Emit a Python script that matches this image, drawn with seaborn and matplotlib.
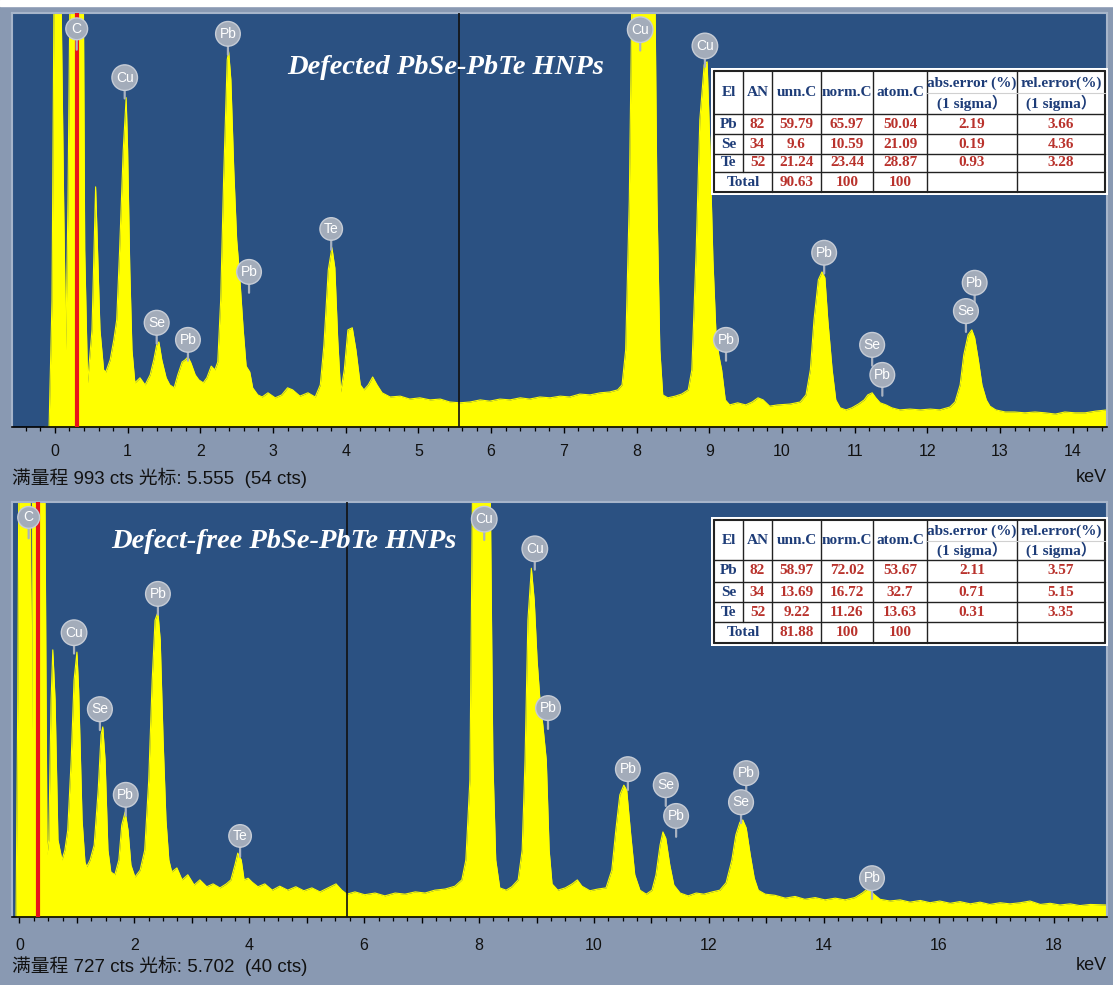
from __future__ import annotations

import matplotlib

matplotlib.use("Agg")

import matplotlib.pyplot as plt
import seaborn as sns
from matplotlib.patches import Rectangle
from matplotlib.ticker import FuncFormatter, MultipleLocator

# spectra: (energy keV, counts); values above full scale are saturated
defected_trace = [
    (-0.14, 0), (-0.08, 0), (-0.04, 305), (-0.01, 1100), (0.08, 1100), (0.12, 545), (0.15, 185),
    (0.18, 545), (0.21, 1100), (0.39, 1100), (0.41, 425), (0.45, 106), (0.51, 233), (0.56, 576),
    (0.62, 233), (0.67, 137), (0.70, 132), (0.76, 161), (0.81, 209), (0.85, 257), (0.89, 425),
    (0.94, 665), (0.98, 790), (1.00, 665), (1.03, 377), (1.06, 185), (1.10, 106), (1.17, 118),
    (1.24, 101), (1.31, 125), (1.36, 161), (1.40, 197), (1.43, 204), (1.47, 161), (1.53, 118),
    (1.58, 101), (1.64, 94), (1.69, 125), (1.75, 156), (1.79, 161), (1.83, 168), (1.87, 154),
    (1.93, 125), (1.98, 113), (2.04, 106), (2.09, 118), (2.15, 146), (2.20, 137), (2.24, 156),
    (2.28, 305), (2.32, 593), (2.37, 881), (2.39, 900), (2.42, 833), (2.46, 617), (2.50, 449),
    (2.54, 365), (2.59, 233), (2.63, 146), (2.68, 132), (2.72, 94), (2.79, 77), (2.85, 72),
    (2.93, 82), (3.03, 70), (3.12, 77), (3.20, 94), (3.27, 89), (3.37, 74), (3.48, 82), (3.58, 72),
    (3.65, 101), (3.70, 197), (3.76, 377), (3.81, 430), (3.85, 382), (3.89, 209), (3.93, 84),
    (3.98, 137), (4.03, 233), (4.09, 238), (4.14, 185), (4.20, 101), (4.25, 89), (4.31, 101),
    (4.37, 120), (4.43, 101), (4.50, 82), (4.61, 72), (4.75, 74), (4.88, 67), (5.02, 70),
    (5.16, 65), (5.30, 67), (5.43, 60), (5.57, 58), (5.71, 60), (5.85, 65), (5.98, 62), (6.12, 67),
    (6.26, 65), (6.40, 70), (6.53, 67), (6.67, 72), (6.81, 70), (6.95, 74), (7.08, 72), (7.22, 79),
    (7.36, 77), (7.50, 82), (7.63, 84), (7.74, 89), (7.80, 101), (7.85, 185), (7.90, 545),
    (7.94, 1100), (8.25, 1100), (8.28, 545), (8.32, 185), (8.36, 77), (8.43, 70), (8.53, 74),
    (8.62, 79), (8.71, 89), (8.76, 137), (8.82, 425), (8.87, 737), (8.93, 869), (8.97, 876),
    (9.01, 665), (9.05, 401), (9.09, 233), (9.13, 173), (9.17, 137), (9.22, 65), (9.28, 53),
    (9.39, 58), (9.50, 53), (9.59, 60), (9.67, 70), (9.74, 65), (9.83, 50), (9.94, 53),
    (10.11, 55), (10.25, 60), (10.33, 77), (10.39, 137), (10.44, 257), (10.50, 353), (10.55, 372),
    (10.59, 358), (10.63, 257), (10.69, 137), (10.74, 65), (10.80, 46), (10.88, 41), (10.96, 46),
    (11.05, 55), (11.13, 65), (11.18, 77), (11.24, 82), (11.29, 70), (11.35, 58), (11.43, 53),
    (11.51, 46), (11.62, 41), (11.76, 43), (11.90, 41), (12.04, 43), (12.17, 41), (12.31, 48),
    (12.38, 60), (12.45, 101), (12.50, 173), (12.56, 221), (12.61, 233), (12.65, 214),
    (12.70, 161), (12.75, 101), (12.81, 65), (12.86, 50), (12.94, 41), (13.07, 36), (13.20, 36),
    (13.34, 34), (13.48, 36), (13.62, 34), (13.76, 31), (13.89, 36), (14.03, 34), (14.17, 34),
    (14.31, 38), (14.47, 41),
]

defectfree_trace = [
    (-0.06, 0), (-0.03, 380), (-0.01, 800), (0.18, 800), (0.21, 328), (0.23, 800), (0.44, 800),
    (0.48, 109), (0.51, 135), (0.55, 380), (0.58, 468), (0.62, 380), (0.67, 135), (0.74, 100),
    (0.79, 117), (0.84, 152), (0.90, 275), (0.95, 415), (1.00, 464), (1.03, 398), (1.09, 170),
    (1.14, 96), (1.17, 88), (1.23, 100), (1.30, 126), (1.37, 222), (1.42, 319), (1.45, 333),
    (1.49, 275), (1.54, 117), (1.59, 79), (1.66, 74), (1.73, 100), (1.78, 161), (1.84, 184),
    (1.89, 152), (1.94, 91), (2.01, 70), (2.10, 82), (2.18, 117), (2.25, 240), (2.31, 415),
    (2.36, 520), (2.41, 534), (2.45, 485), (2.50, 310), (2.55, 170), (2.60, 100), (2.65, 79),
    (2.74, 86), (2.83, 65), (2.93, 74), (3.04, 56), (3.14, 65), (3.26, 53), (3.37, 58), (3.49, 51),
    (3.60, 58), (3.68, 65), (3.75, 91), (3.80, 112), (3.86, 100), (3.91, 65), (3.98, 68),
    (4.05, 61), (4.15, 53), (4.27, 58), (4.40, 47), (4.53, 54), (4.67, 47), (4.81, 53), (4.95, 46),
    (5.09, 51), (5.23, 44), (5.37, 51), (5.51, 58), (5.61, 47), (5.70, 40), (5.84, 44), (6.01, 39),
    (6.19, 42), (6.36, 37), (6.54, 42), (6.71, 40), (6.89, 44), (7.06, 42), (7.23, 47), (7.41, 49),
    (7.58, 54), (7.70, 65), (7.77, 100), (7.84, 240), (7.89, 800), (8.19, 800), (8.24, 275),
    (8.29, 100), (8.36, 51), (8.47, 47), (8.57, 53), (8.68, 65), (8.75, 117), (8.80, 275),
    (8.85, 520), (8.91, 611), (8.96, 555), (9.01, 450), (9.06, 380), (9.11, 336), (9.17, 275),
    (9.22, 117), (9.27, 58), (9.37, 47), (9.50, 51), (9.62, 58), (9.71, 65), (9.79, 54), (9.93, 46),
    (10.07, 49), (10.21, 51), (10.31, 82), (10.38, 152), (10.45, 214), (10.52, 231), (10.57, 222),
    (10.64, 144), (10.71, 74), (10.80, 47), (10.91, 40), (11.01, 47), (11.08, 74), (11.15, 126),
    (11.20, 149), (11.25, 138), (11.32, 91), (11.39, 56), (11.50, 42), (11.64, 37), (11.78, 42),
    (11.91, 40), (12.06, 44), (12.19, 47), (12.30, 60), (12.40, 100), (12.47, 144), (12.54, 166),
    (12.59, 170), (12.65, 156), (12.72, 109), (12.79, 68), (12.86, 47), (12.98, 40), (13.15, 38),
    (13.33, 33), (13.50, 36), (13.67, 31), (13.85, 34), (14.02, 30), (14.20, 33), (14.37, 30),
    (14.54, 34), (14.67, 42), (14.77, 50), (14.87, 40), (14.98, 31), (15.15, 28), (15.33, 30),
    (15.50, 26), (15.68, 29), (15.85, 25), (16.02, 28), (16.20, 24), (16.37, 27), (16.55, 23),
    (16.72, 26), (16.89, 22), (17.07, 25), (17.24, 23), (17.42, 25), (17.59, 28), (17.77, 22),
    (17.94, 24), (18.11, 21), (18.29, 23), (18.46, 20), (18.64, 22), (18.93, 21),
]

# peak markers: element, energy (keV), counts where the marker sits
defected_mark_el = ["C", "Cu", "Pb", "Se", "Pb", "Pb", "Te", "Cu", "Cu", "Pb", "Pb", "Se", "Pb", "Pb", "Se"]
defected_mark_kev = [0.30, 0.96, 2.38, 1.40, 1.83, 2.67, 3.80, 8.05, 8.94, 9.23, 10.58, 11.24, 11.38, 12.65, 12.53]
defected_mark_cts = [955, 838, 943, 250, 209, 372, 475, 953, 914, 209, 418, 197, 125, 346, 278]

defectfree_mark_el = ["C", "Cu", "Se", "Pb", "Pb", "Te", "Cu", "Cu", "Pb", "Pb", "Se", "Pb", "Pb", "Se", "Pb"]
defectfree_mark_kev = [0.16, 0.95, 1.40, 1.85, 2.41, 3.84, 8.09, 8.97, 9.20, 10.59, 11.25, 11.43, 12.65, 12.56, 14.84]
defectfree_mark_cts = [700, 498, 364, 214, 566, 142, 697, 645, 366, 259, 231, 177, 252, 201, 68]

# quantification tables
elements = ["Pb", "Se", "Te"]
atomic_numbers = [82, 34, 52]
defected_unn = [59.79, 9.6, 21.24]
defected_norm = [65.97, 10.59, 23.44]
defected_atom = [50.04, 21.09, 28.87]
defected_abs = [2.19, 0.19, 0.93]
defected_rel = [3.66, 4.36, 3.28]
defected_total = [90.63, 100, 100]

defectfree_unn = [58.97, 13.69, 9.22]
defectfree_norm = [72.02, 16.72, 11.26]
defectfree_atom = [53.67, 32.7, 13.63]
defectfree_abs = [2.11, 0.71, 0.31]
defectfree_rel = [3.57, 5.15, 3.35]
defectfree_total = [81.88, 100, 100]

header_single = ["El", "AN", "unn.C", "norm.C", "atom.C"]
header_double = [("abs.error (%)", "(1 sigma\uff09"), ("rel.error(%)", "(1 sigma\uff09")]

W, H = 1113, 985
FRAME = "#8999b2"
PLOT_BG = "#2b5182"
YELLOW = "#ffff00"
NAVY = "#1d3c78"
RED = "#b9322c"
SANS = ["Liberation Sans", "Noto Sans CJK SC", "DejaVu Sans"]
SERIF = ["Liberation Serif", "Noto Sans CJK SC", "DejaVu Serif"]
COL_EDGES = [0, 29, 58, 107, 159, 213, 303, 391]

sns.set_theme(style="white")
plt.rcParams["font.family"] = SANS

fig = plt.figure(figsize=(W / 100, H / 100), dpi=100)
fig.patch.set_facecolor(FRAME)
fig.add_artist(Rectangle((0, 1 - 6 / H), 1, 6 / H, transform=fig.transFigure, color="white", zorder=0))


def px_rect(x0, y0, x1, y1):
    return [x0 / W, 1 - y1 / H, (x1 - x0) / W, (y1 - y0) / H]


def fmt(v):
    return str(v)


def draw_panel(rect, trace, mark_el, mark_kev, mark_cts, full_scale, xlim, cursor, cursor_cts,
               red_at, label_step, minor, title, title_xy, tick_pad, status_y):
    ax = fig.add_axes(px_rect(*rect))
    ax.set_facecolor(PLOT_BG)
    kev = [p[0] for p in trace]
    cts = [p[1] for p in trace]
    ax.fill_between(kev, cts, 0, color=YELLOW, lw=0, zorder=2)
    sns.lineplot(x=kev, y=cts, ax=ax, color=YELLOW, lw=0.8, sort=False, estimator=None, zorder=2)
    ax.axvline(red_at, color="#e8141a", lw=3, zorder=3)
    ax.axvline(cursor, color="#111111", lw=1.2, zorder=3)

    for el, k, c in zip(mark_el, mark_kev, mark_cts):
        ax.annotate("", xy=(k, c), xytext=(0, -15), textcoords="offset points",
                    arrowprops=dict(arrowstyle="-", color="#a9b2c0", lw=1.6, shrinkA=0, shrinkB=0),
                    zorder=5)
        ax.text(k, c, el, ha="center", va="center", color="white", fontsize=10, family=SANS,
                zorder=6, bbox=dict(boxstyle="circle,pad=0.28", fc="#a3acba", ec="#c6ccd6", lw=1.0))

    ax.set_xlim(*xlim)
    ax.set_ylim(0, full_scale)
    ax.set_yticks([])
    ax.xaxis.set_major_locator(MultipleLocator(1))
    ax.xaxis.set_minor_locator(MultipleLocator(minor))
    ax.xaxis.set_major_formatter(FuncFormatter(
        lambda v, p: f"{int(round(v))}" if int(round(v)) % label_step == 0 else ""))
    ax.tick_params(axis="x", which="major", direction="out", length=4.5, width=1.0, color="black",
                   labelsize=11.5, labelcolor="#111111", pad=tick_pad, bottom=True)
    ax.tick_params(axis="x", which="minor", direction="out", length=2.6, width=0.9, color="black",
                   bottom=True)
    for side in ["top", "left", "right"]:
        ax.spines[side].set_color("#a7b5ca")
        ax.spines[side].set_linewidth(1.5)
    ax.spines["bottom"].set_color("black")
    ax.spines["bottom"].set_linewidth(1.2)
    ax.set_xlabel("")
    ax.set_ylabel("")

    fig.text(title_xy[0] / W, 1 - title_xy[1] / H, title, color="white", fontsize=20.5,
             family=SERIF, weight="bold", style="italic", ha="center", va="center")
    fig.text(12 / W, 1 - status_y / H,
             f"满量程 {full_scale} cts 光标: {cursor:.3f}  ({cursor_cts} cts)",
             color="#111111", fontsize=13.5, family=SANS, ha="left", va="center")
    fig.text(1107 / W, 1 - status_y / H, "keV", color="#111111", fontsize=13, family=SANS,
             ha="right", va="center")
    return ax


def draw_table(left, top, row_edges, unn, norm, atom, abs_err, rel_err, total):
    width = COL_EDGES[-1]
    height = row_edges[-1]
    m = 3
    ax = fig.add_axes(px_rect(left - m, top - m, left + width + m, top + height + m))
    ax.set_xlim(-m, width + m)
    ax.set_ylim(height + m, -m)
    ax.axis("off")
    ax.add_patch(Rectangle((-m, -m), width + 2 * m, height + 2 * m, fc="white", ec="none"))

    for i, x in enumerate(COL_EDGES):
        y_end = row_edges[4] if i == 1 else height
        ax.plot([x, x], [0, y_end], color="#222222", lw=1.5 if i in (0, 7) else 1.0)
    for j, y in enumerate(row_edges):
        ax.plot([0, width], [y, y], color="#222222", lw=1.5 if j in (0, 5) else 1.0)
    hmid = row_edges[1] * 0.52
    ax.plot([COL_EDGES[5], COL_EDGES[7]], [hmid, hmid], color="#d0d0d0", lw=0.8)

    centers = [(COL_EDGES[i] + COL_EDGES[i + 1]) / 2 for i in range(7)]
    head_y = row_edges[1] / 2
    for i, name in enumerate(header_single):
        ax.text(centers[i], head_y, name, ha="center", va="center", color=NAVY,
                fontsize=11, family=SERIF, weight="bold")
    for i, (l1, l2) in enumerate(header_double):
        ax.text(centers[5 + i], row_edges[1] * 0.28, l1, ha="center", va="center", color=NAVY,
                fontsize=11, family=SERIF, weight="bold")
        ax.text(centers[5 + i], row_edges[1] * 0.74, l2, ha="center", va="center", color=NAVY,
                fontsize=11, family=SERIF, weight="bold")

    for r, el in enumerate(elements):
        yc = (row_edges[r + 1] + row_edges[r + 2]) / 2
        ax.text(centers[0], yc, el, ha="center", va="center", color=NAVY, fontsize=11,
                family=SERIF, weight="bold")
        vals = [atomic_numbers[r], unn[r], norm[r], atom[r], abs_err[r], rel_err[r]]
        for c, v in enumerate(vals):
            ax.text(centers[c + 1], yc, fmt(v), ha="center", va="center", color=RED,
                    fontsize=11, family=SERIF, weight="bold")
    yc = (row_edges[4] + row_edges[5]) / 2
    ax.text(COL_EDGES[2] / 2, yc, "Total", ha="center", va="center", color=NAVY, fontsize=11,
            family=SERIF, weight="bold")
    for c, v in enumerate(total):
        ax.text(centers[c + 2], yc, fmt(v), ha="center", va="center", color=RED, fontsize=11,
                family=SERIF, weight="bold")


draw_panel((12, 13, 1107, 427), defected_trace, defected_mark_el, defected_mark_kev,
           defected_mark_cts, 993, (-0.59, 14.47), 5.555, 54, 0.30, 1, 0.2,
           "Defected PbSe-PbTe HNPs", (446, 68), 8.0, 478)
draw_panel((12, 502, 1107, 917), defectfree_trace, defectfree_mark_el, defectfree_mark_kev,
           defectfree_mark_cts, 727, (-0.13, 18.93), 5.702, 40, 0.32, 2, 0.25,
           "Defect-free PbSe-PbTe HNPs", (284, 541), 10.5, 966)

draw_table(714, 71, [0, 43, 63, 83, 101, 121], defected_unn, defected_norm, defected_atom,
           defected_abs, defected_rel, defected_total)
draw_table(714, 520, [0, 40, 62, 82, 102, 123], defectfree_unn, defectfree_norm, defectfree_atom,
           defectfree_abs, defectfree_rel, defectfree_total)

fig.savefig("out.png", dpi=100, facecolor=fig.get_facecolor())
plt.close(fig)
